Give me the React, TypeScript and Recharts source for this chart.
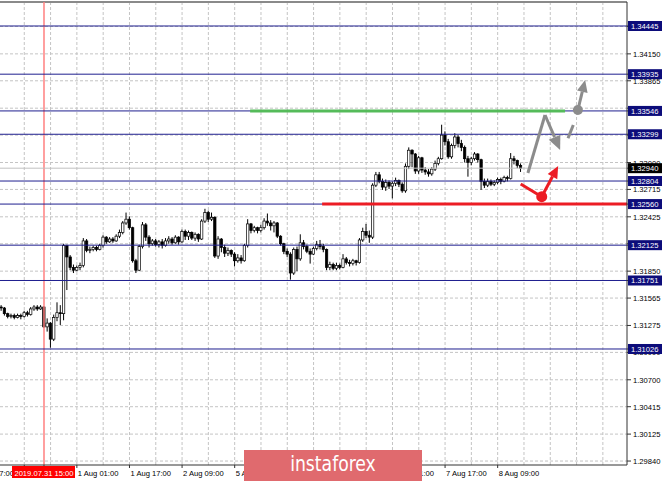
import { ComposedChart, Bar, XAxis, YAxis, CartesianGrid, ReferenceLine, ReferenceDot } from 'recharts';

// hourly bars, t = bar index (31 Jul 00:00 = 0, weekend skipped)
const FIRST_T = 2;
const FIRST_OPEN = 1.3147;

const CLOSE = [
  1.3146, 1.3140, 1.3137, 1.3138, 1.3136, 1.3138, 1.3137, 1.3141, 1.3139, 1.3145,
  1.3147, 1.3145, 1.3147, 1.3126, 1.3130, 1.3113, 1.3136, 1.3141, 1.3140, 1.3212,
  1.3200, 1.3189, 1.3186, 1.3189, 1.3191, 1.3217, 1.3207, 1.3208, 1.3210, 1.3208,
  1.3212, 1.3221, 1.3216, 1.3219, 1.3217, 1.3222, 1.3226, 1.3236, 1.3240, 1.3231,
  1.3196, 1.3186, 1.3211, 1.3234, 1.3221, 1.3214, 1.3217, 1.3213, 1.3216, 1.3212,
  1.3217, 1.3219, 1.3215, 1.3221, 1.3216, 1.3227, 1.3222, 1.3226, 1.3220, 1.3224,
  1.3219, 1.3238, 1.3247, 1.3240, 1.3242, 1.3201, 1.3219, 1.3210, 1.3204, 1.3207,
  1.3203, 1.3196, 1.3199, 1.3196, 1.3212, 1.3235, 1.3228, 1.3231, 1.3228, 1.3231,
  1.3238, 1.3236, 1.3233, 1.3236, 1.3222, 1.3214, 1.3206, 1.3203, 1.3183, 1.3208,
  1.3198, 1.3215, 1.3211, 1.3206, 1.3203, 1.3209, 1.3213, 1.3211, 1.3208, 1.3189,
  1.3192, 1.3188, 1.3191, 1.3189, 1.3198, 1.3194, 1.3193, 1.3196, 1.3194, 1.3218,
  1.3227, 1.3223, 1.3221, 1.3276, 1.3287, 1.3280, 1.3274, 1.3279, 1.3275, 1.3278,
  1.3281, 1.3277, 1.3270, 1.3296, 1.3313, 1.3309, 1.3291, 1.3305, 1.3292, 1.3290,
  1.3288, 1.3293, 1.3299, 1.3304, 1.3329, 1.3322, 1.3306, 1.3318, 1.3327, 1.3320,
  1.3316, 1.3304, 1.3300, 1.3304, 1.3309, 1.3303, 1.3280, 1.3276, 1.3280, 1.3277,
  1.3279, 1.3282, 1.3280, 1.3284, 1.3283, 1.3304, 1.3302, 1.3297, 1.3294,
];

const HIGH = [
  1.3149, 1.3147, 1.3141, 1.3140, 1.3140, 1.3140, 1.3140, 1.3143, 1.3143, 1.3147,
  1.3149, 1.3149, 1.3149, 1.3148, 1.3135, 1.3131, 1.3139, 1.3152, 1.3149, 1.3214,
  1.3213, 1.3202, 1.3192, 1.3191, 1.3194, 1.3220, 1.3219, 1.3211, 1.3212, 1.3212,
  1.3214, 1.3223, 1.3222, 1.3221, 1.3221, 1.3224, 1.3229, 1.3238, 1.3247, 1.3243,
  1.3232, 1.3198, 1.3213, 1.3237, 1.3236, 1.3223, 1.3219, 1.3219, 1.3218, 1.3219,
  1.3220, 1.3222, 1.3221, 1.3223, 1.3222, 1.3229, 1.3229, 1.3228, 1.3227, 1.3226,
  1.3225, 1.3240, 1.3251, 1.3249, 1.3247, 1.3243, 1.3222, 1.3220, 1.3213, 1.3210,
  1.3208, 1.3205, 1.3203, 1.3202, 1.3214, 1.3240, 1.3236, 1.3233, 1.3232, 1.3234,
  1.3241, 1.3246, 1.3239, 1.3238, 1.3237, 1.3223, 1.3215, 1.3209, 1.3205, 1.3210,
  1.3211, 1.3224, 1.3218, 1.3213, 1.3209, 1.3211, 1.3217, 1.3218, 1.3214, 1.3209,
  1.3195, 1.3194, 1.3194, 1.3193, 1.3203, 1.3200, 1.3197, 1.3198, 1.3197, 1.3220,
  1.3231, 1.3235, 1.3228, 1.3278, 1.3290, 1.3290, 1.3283, 1.3282, 1.3281, 1.3280,
  1.3284, 1.3282, 1.3279, 1.3299, 1.3316, 1.3314, 1.3310, 1.3307, 1.3306, 1.3295,
  1.3293, 1.3295, 1.3302, 1.3306, 1.3340, 1.3333, 1.3325, 1.3320, 1.3331, 1.3329,
  1.3324, 1.3318, 1.3307, 1.3306, 1.3311, 1.3310, 1.3304, 1.3283, 1.3283, 1.3282,
  1.3281, 1.3284, 1.3284, 1.3286, 1.3286, 1.3310, 1.3307, 1.3303, 1.3299,
];

const LOW = [
  1.3143, 1.3138, 1.3135, 1.3135, 1.3134, 1.3135, 1.3134, 1.3136, 1.3137, 1.3138,
  1.3143, 1.3143, 1.3144, 1.3125, 1.3121, 1.3104, 1.3111, 1.3132, 1.3128, 1.3133,
  1.3165, 1.3186, 1.3183, 1.3185, 1.3186, 1.3189, 1.3205, 1.3204, 1.3206, 1.3206,
  1.3207, 1.3210, 1.3214, 1.3215, 1.3215, 1.3216, 1.3220, 1.3224, 1.3234, 1.3229,
  1.3194, 1.3183, 1.3185, 1.3209, 1.3217, 1.3210, 1.3212, 1.3211, 1.3210, 1.3209,
  1.3211, 1.3214, 1.3213, 1.3214, 1.3213, 1.3215, 1.3218, 1.3218, 1.3218, 1.3217,
  1.3216, 1.3218, 1.3236, 1.3237, 1.3238, 1.3199, 1.3198, 1.3205, 1.3200, 1.3201,
  1.3200, 1.3190, 1.3194, 1.3193, 1.3195, 1.3210, 1.3225, 1.3226, 1.3225, 1.3226,
  1.3229, 1.3233, 1.3228, 1.3226, 1.3220, 1.3212, 1.3203, 1.3200, 1.3176, 1.3181,
  1.3185, 1.3196, 1.3208, 1.3204, 1.3193, 1.3202, 1.3207, 1.3208, 1.3205, 1.3186,
  1.3186, 1.3186, 1.3186, 1.3187, 1.3188, 1.3192, 1.3190, 1.3191, 1.3191, 1.3193,
  1.3216, 1.3220, 1.3215, 1.3219, 1.3274, 1.3278, 1.3271, 1.3270, 1.3272, 1.3262,
  1.3275, 1.3274, 1.3268, 1.3268, 1.3293, 1.3295, 1.3288, 1.3288, 1.3289, 1.3287,
  1.3285, 1.3286, 1.3291, 1.3297, 1.3303, 1.3318, 1.3304, 1.3304, 1.3315, 1.3316,
  1.3312, 1.3300, 1.3285, 1.3297, 1.3302, 1.3300, 1.3271, 1.3273, 1.3274, 1.3275,
  1.3275, 1.3277, 1.3277, 1.3279, 1.3280, 1.3282, 1.3298, 1.3294, 1.3290,
];

const LEVELS = [1.34445, 1.33935, 1.33546, 1.33299, 1.32804, 1.3256, 1.32125, 1.31751, 1.31026];
const CURRENT = 1.3294;
const PRICE_GRID = [
  1.3444, 1.3415, 1.33865, 1.33575, 1.3329, 1.33, 1.32715, 1.32425, 1.3214,
  1.3185, 1.31565, 1.31275, 1.3099, 1.307, 1.30415, 1.30125, 1.2984,
];
const TIME_GRID = [9, 17, 25, 33, 41, 49, 57, 65, 73, 81, 89, 97, 105, 113, 121, 129, 137, 145, 153, 161, 169, 177, 185];
const X_TICKS = [-7, 9, 15, 25, 41, 57, 73, 89, 105, 121, 137, 153];
const X_LABELS = [
  '30 Jul 17:00', '', '2019.07.31 15:00', '1 Aug 01:00', '1 Aug 17:00', '2 Aug 09:00',
  '5 Aug 01:00', '5 Aug 17:00', '6 Aug 09:00', '7 Aug 01:00', '7 Aug 17:00', '8 Aug 09:00',
];
const MARKED_T = 15;

// analyst drawing: [t, price]
const GRAY_PATH = [[162.2, 1.32889], [167.4, 1.33503], [172.0, 1.33132]];
const GRAY_DASH = [[174.4, 1.33256], [176.0, 1.33397]];
const GRAY_UP = [[177.4, 1.33556], [179.6, 1.33873]];
const RED_PATH = [[160.0, 1.32772], [166.4, 1.32638]];
const RED_UP = [[166.4, 1.32638], [171.4, 1.32963]];
const GREEN_SEG = [[77.7, 1.33546], [173.5, 1.33546]];
const RED_SEG = [[99.6, 1.3256], [192.34, 1.3256]];

const T_MIN = 1.616;
const T_MAX = 192.34;
const P_MIN = 1.29798;
const P_MAX = 1.34699;

const FONT = '"Liberation Sans", Arial, sans-serif';
const NAVY = '#1f1f8f';
const RED = '#ec1c24';
const GRAY = '#8c8c8c';

const rows = CLOSE.map((c, i) => {
  const open = i === 0 ? FIRST_OPEN : CLOSE[i - 1];
  const high = Math.max(HIGH[i], open, c);
  const low = Math.min(LOW[i], open, c);
  return { t: FIRST_T + i, open, close: c, high, low, range: [low, high] };
});

const seg = (pts: number[][]) => pts.map(([x, y]) => ({ x, y }));

function Candle(props: any) {
  const { x, y, width, height, payload } = props;
  if (x == null || !payload) return null;
  const { open, close, high, low } = payload;
  const h = Math.abs(height);
  const top = height < 0 ? y + height : y;
  const k = h / (high - low || 1);
  const py = (v: number) => top + (high - v) * k;
  const cx = x + width / 2;
  const bTop = py(Math.max(open, close));
  const bBot = py(Math.min(open, close));
  const bull = close >= open;
  return (
    <g>
      <line x1={cx} x2={cx} y1={top} y2={top + h} stroke="#000" strokeWidth={1} />
      <rect
        x={cx - 1.2}
        y={bTop}
        width={2.4}
        height={Math.max(bBot - bTop, 0.8)}
        fill={bull ? '#fff' : '#000'}
        stroke="#000"
        strokeWidth={0.7}
      />
    </g>
  );
}

function Arrow(props: any) {
  const { x1, y1, x2, y2, stroke, head = 12 } = props;
  const a = Math.atan2(y2 - y1, x2 - x1);
  const bx = x2 - head * Math.cos(a);
  const by = y2 - head * Math.sin(a);
  const w = head * 0.45;
  const px = -Math.sin(a) * w;
  const py = Math.cos(a) * w;
  return (
    <g>
      <line x1={x1} y1={y1} x2={bx} y2={by} stroke={stroke} strokeWidth={3} />
      <polygon points={`${x2},${y2} ${bx + px},${by + py} ${bx - px},${by - py}`} fill={stroke} />
    </g>
  );
}

function PriceTick(props: any) {
  const { x, y, payload } = props;
  const v = payload.value as number;
  const txt = v.toFixed(5);
  const boxed = LEVELS.includes(v) || v === CURRENT;
  if (boxed) {
    return (
      <g>
        <rect x={x - 5} y={y - 5} width={34} height={10} fill={v === CURRENT ? '#000' : '#0c0c7a'} />
        <text x={x - 2} y={y + 3} fontSize={7.6} fontFamily={FONT} fill="#fff">
          {txt}
        </text>
      </g>
    );
  }
  return (
    <text x={x} y={y + 3} fontSize={7.6} fontFamily={FONT} fill="#000">
      {txt}
    </text>
  );
}

function TimeTick(props: any) {
  const { x, y, payload } = props;
  const idx = X_TICKS.indexOf(payload.value);
  const label = X_LABELS[idx];
  if (!label) return null;
  if (payload.value === MARKED_T) {
    return (
      <g>
        <rect x={x - 32} y={y - 4} width={63} height={12} fill="#ff0000" />
        <text x={x} y={y + 5.5} fontSize={7.6} fontFamily={FONT} fill="#fff" textAnchor="middle">
          {label}
        </text>
      </g>
    );
  }
  return (
    <text x={x + 1} y={y + 5.5} fontSize={7.6} fontFamily={FONT} fill="#000">
      {label}
    </text>
  );
}

export default function App() {
  return (
    <div style={{ position: 'absolute', left: 0, top: 0, width: 665, height: 481, background: '#fff', overflow: 'hidden' }}>
      <ComposedChart width={665} height={481} data={rows} margin={{ top: 2, right: 0, bottom: 0, left: 0 }}>
        <CartesianGrid
          stroke="#c4c4c4"
          strokeDasharray="3 2"
          horizontalValues={PRICE_GRID}
          verticalValues={TIME_GRID}
        />
        <XAxis
          dataKey="t"
          type="number"
          domain={[T_MIN, T_MAX]}
          allowDataOverflow
          ticks={X_TICKS}
          interval={0}
          height={16}
          tickSize={3}
          tickMargin={2}
          tick={<TimeTick />}
          axisLine={{ stroke: '#333' }}
          tickLine={{ stroke: '#333' }}
        />
        <YAxis
          type="number"
          orientation="right"
          width={38}
          domain={[P_MIN, P_MAX]}
          allowDataOverflow
          ticks={[...PRICE_GRID, ...LEVELS, CURRENT]}
          interval={0}
          tickSize={4}
          tickMargin={2}
          tick={<PriceTick />}
          axisLine={{ stroke: '#333' }}
          tickLine={{ stroke: '#333' }}
        />
        <ReferenceLine y={P_MAX} stroke="#8a8a8a" strokeWidth={2} />
        <ReferenceLine x={MARKED_T} stroke="#ff8080" strokeWidth={1.5} />
        <ReferenceLine y={CURRENT} stroke="#c0c0c0" strokeWidth={1} />
        <Bar dataKey="range" barSize={3} shape={<Candle />} isAnimationActive={false} />
        {LEVELS.map((lv) => (
          <ReferenceLine key={lv} y={lv} stroke={NAVY} strokeWidth={1} />
        ))}
        <ReferenceLine segment={seg(GREEN_SEG)} stroke="#55bb5a" strokeWidth={3} />
        <ReferenceLine segment={seg(RED_SEG)} stroke={RED} strokeWidth={3} />
        <ReferenceLine segment={seg(GRAY_PATH.slice(0, 2))} stroke={GRAY} strokeWidth={3} />
        <ReferenceLine segment={seg(GRAY_PATH.slice(1, 3))} stroke={GRAY} shape={<Arrow head={14} />} />
        <ReferenceLine segment={seg(GRAY_DASH)} stroke={GRAY} strokeWidth={3} />
        <ReferenceLine segment={seg(GRAY_UP)} stroke={GRAY} shape={<Arrow head={12} />} />
        <ReferenceDot x={GRAY_UP[0][0]} y={GRAY_UP[0][1]} r={5} fill={GRAY} stroke="none" />
        <ReferenceLine segment={seg(RED_PATH)} stroke={RED} strokeWidth={3} />
        <ReferenceLine segment={seg(RED_UP)} stroke={RED} shape={<Arrow head={12} />} />
        <ReferenceDot x={RED_UP[0][0]} y={RED_UP[0][1]} r={5.5} fill={RED} stroke="none" />
      </ComposedChart>
      <svg
        width={178}
        height={31}
        style={{ position: 'absolute', left: 244, top: 450 }}
      >
        <rect x={0} y={0} width={178} height={31} fill="#e06a6e" />
        <text
          x={89}
          y={21}
          textAnchor="middle"
          fill="#fff"
          fontSize={22}
          fontFamily='"DejaVu Sans Condensed", "DejaVu Sans", sans-serif'
          transform="translate(89 0) scale(0.87 1) translate(-89 0)"
        >
          instaforex
        </text>
      </svg>
    </div>
  );
}
